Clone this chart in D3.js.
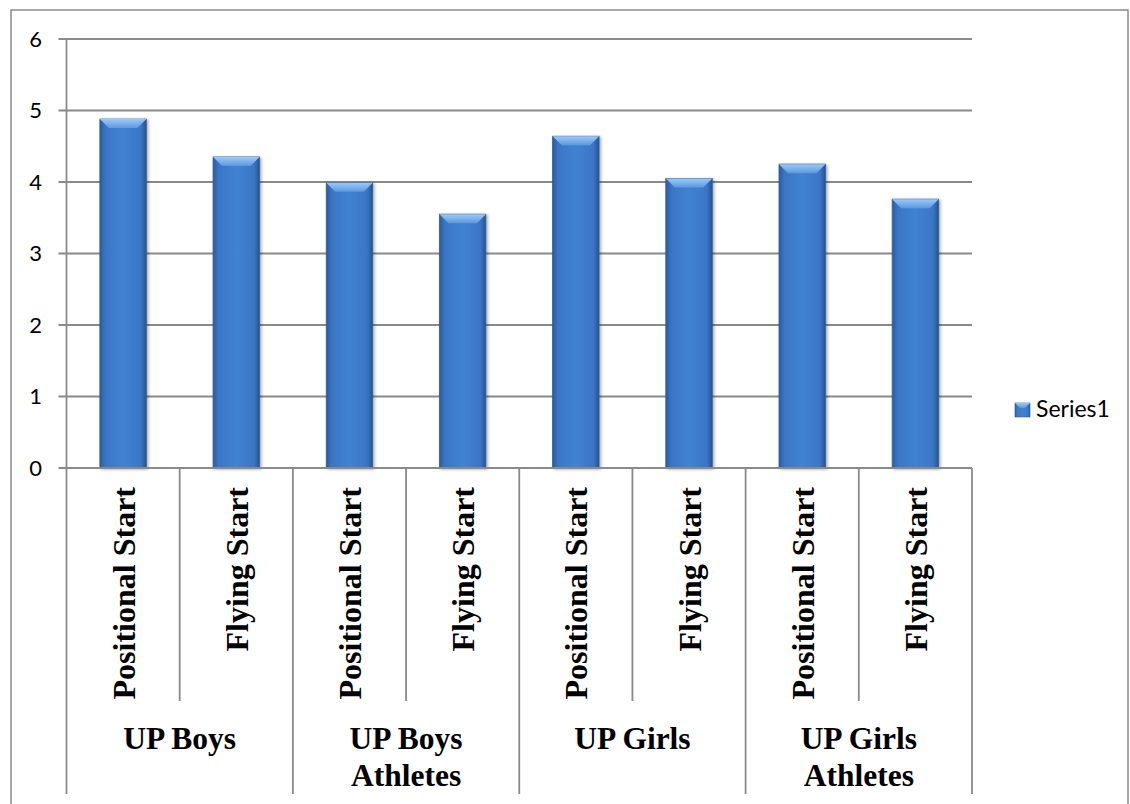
<!DOCTYPE html>
<html>
<head>
<meta charset="utf-8">
<script src="https://cdn.jsdelivr.net/npm/d3@7"></script>
<style>
  body { margin: 0; background: #fff; }
  svg { display: block; }
</style>
</head>
<body>
<div id="chart"></div>
<script>
// data
var groups = ["UP Boys", "UP Boys Athletes", "UP Girls", "UP Girls Athletes"];
var groupLines = [["UP Boys"], ["UP Boys", "Athletes"], ["UP Girls"], ["UP Girls", "Athletes"]];
var starts = ["Positional Start", "Flying Start"];
var values = [4.88, 4.35, 3.99, 3.55, 4.64, 4.05, 4.25, 3.76];
var yTicks = [0, 1, 2, 3, 4, 5, 6];
var seriesName = "Series1";

var W = 1130, H = 804;
var plot = {left: 66.5, right: 972, top: 39, bottom: 468};

var svg = d3.select("#chart").append("svg")
    .attr("width", W)
    .attr("height", H);

var grey = "#8a8a8a";

// outer frame
svg.append("rect")
    .attr("x", 11).attr("y", 10)
    .attr("width", 1117).attr("height", 820)
    .attr("fill", "none")
    .attr("stroke", grey)
    .attr("stroke-width", 1.5);

// one band per bar
var cats = [];
groups.forEach(function(g, gi) {
  starts.forEach(function(s, si) {
    cats.push({group: g, gi: gi, start: s, value: values[gi * starts.length + si]});
  });
});

var x = d3.scaleBand()
    .domain(d3.range(cats.length))
    .range([plot.left, plot.right])
    .padding(0);

var xg = d3.scaleBand()
    .domain(groups)
    .range([plot.left, plot.right])
    .padding(0);

var y = d3.scaleLinear()
    .domain([0, 6])
    .range([plot.bottom, plot.top]);

// gridlines + ticks
svg.append("g").selectAll("line")
  .data(yTicks)
  .enter().append("line")
    .attr("x1", plot.left - 8)
    .attr("x2", plot.right)
    .attr("y1", function(d) { return y(d); })
    .attr("y2", function(d) { return y(d); })
    .attr("stroke", grey)
    .attr("stroke-width", 1.8);

svg.append("g").selectAll("text")
  .data(yTicks)
  .enter().append("text")
    .attr("x", 42)
    .attr("y", function(d) { return y(d); })
    .attr("dy", "0.36em")
    .attr("text-anchor", "end")
    .style("font-family", "Lato, 'Open Sans', sans-serif")
    .style("font-size", "22px")
    .attr("fill", "#000")
    .text(function(d) { return d; });

// y axis line
svg.append("line")
    .attr("x1", plot.left).attr("x2", plot.left)
    .attr("y1", plot.top).attr("y2", 794)
    .attr("stroke", grey).attr("stroke-width", 1.8);

// bar gradients
var defs = svg.append("defs");
var body = defs.append("linearGradient").attr("id", "barBody")
    .attr("x1", "0").attr("x2", "1").attr("y1", "0").attr("y2", "0");
[[0, "#2a5c9e"], [0.12, "#3a76c6"], [0.5, "#4282d3"], [0.88, "#3a76c6"], [1, "#285490"]]
  .forEach(function(s) { body.append("stop").attr("offset", s[0]).attr("stop-color", s[1]); });

var topG = defs.append("linearGradient").attr("id", "barTop")
    .attr("x1", "0").attr("x2", "0").attr("y1", "0").attr("y2", "1");
[[0, "#9ccaf7"], [1, "#5c98e0"]]
  .forEach(function(s) { topG.append("stop").attr("offset", s[0]).attr("stop-color", s[1]); });

var shadow = defs.append("filter").attr("id", "shadow")
    .attr("x", "-20%").attr("y", "-5%").attr("width", "140%").attr("height", "110%");
shadow.append("feDropShadow")
    .attr("dx", 1.5).attr("dy", 1)
    .attr("stdDeviation", 1.5)
    .attr("flood-color", "#000")
    .attr("flood-opacity", 0.35);

var barW = x.bandwidth() * 0.41;
var bev = 9;

var bars = svg.append("g").selectAll("g")
  .data(cats)
  .enter().append("g")
    .attr("filter", "url(#shadow)");

bars.append("rect")
    .attr("x", function(d, i) { return x(i) + (x.bandwidth() - barW) / 2; })
    .attr("y", function(d) { return y(d.value); })
    .attr("width", barW)
    .attr("height", function(d) { return y(0) - y(d.value); })
    .attr("fill", "url(#barBody)")
    .attr("stroke", "#2d5c96")
    .attr("stroke-width", 0.8);

bars.append("path")
    .attr("d", function(d, i) {
      var x0 = x(i) + (x.bandwidth() - barW) / 2, x1 = x0 + barW, t = y(d.value);
      return "M" + x0 + "," + t + "L" + x1 + "," + t +
             "L" + (x1 - bev) + "," + (t + bev) + "L" + (x0 + bev) + "," + (t + bev) + "Z";
    })
    .attr("fill", "url(#barTop)");

// category axis boxes
svg.append("line")
    .attr("x1", plot.left).attr("x2", plot.right)
    .attr("y1", y(0)).attr("y2", y(0))
    .attr("stroke", grey).attr("stroke-width", 1.8);

var inner = d3.range(1, cats.length).filter(function(i) { return i % starts.length !== 0; });
svg.append("g").selectAll("line")
  .data(inner)
  .enter().append("line")
    .attr("x1", function(i) { return x(i); })
    .attr("x2", function(i) { return x(i); })
    .attr("y1", y(0)).attr("y2", 701)
    .attr("stroke", grey).attr("stroke-width", 1.8);

svg.append("g").selectAll("line")
  .data(groups)
  .enter().append("line")
    .attr("x1", function(g) { return xg(g) + xg.bandwidth(); })
    .attr("x2", function(g) { return xg(g) + xg.bandwidth(); })
    .attr("y1", y(0)).attr("y2", 794)
    .attr("stroke", grey).attr("stroke-width", 1.8);

// rotated start labels
svg.append("g").selectAll("text")
  .data(cats)
  .enter().append("text")
    .attr("transform", function(d, i) {
      return "translate(" + (x(i) + x.bandwidth() / 2 + 11.5) + "," + (y(0) + 19) + ") rotate(-90)";
    })
    .attr("text-anchor", "end")
    .style("font-family", "'Liberation Serif', 'Times New Roman', serif")
    .style("font-weight", "bold")
    .style("font-size", "32px")
    .attr("fill", "#000")
    .text(function(d) { return d.start; });

// group labels
var gl = svg.append("g").selectAll("text")
  .data(groups)
  .enter().append("text")
    .attr("x", function(g) { return xg(g) + xg.bandwidth() / 2; })
    .attr("y", 749)
    .attr("text-anchor", "middle")
    .style("font-family", "'Liberation Serif', 'Times New Roman', serif")
    .style("font-weight", "bold")
    .style("font-size", "31.5px")
    .attr("fill", "#000");

gl.selectAll("tspan")
  .data(function(g, gi) { return groupLines[gi].map(function(t) { return {t: t, x: xg(g) + xg.bandwidth() / 2}; }); })
  .enter().append("tspan")
    .attr("x", function(d) { return d.x; })
    .attr("dy", function(d, i) { return i === 0 ? 0 : 37; })
    .text(function(d) { return d.t; });

// legend
var leg = svg.append("g").attr("transform", "translate(1015,403)");
leg.append("rect")
    .attr("width", 15).attr("height", 14)
    .attr("fill", "url(#barBody)")
    .attr("stroke", "#2d5c96").attr("stroke-width", 0.6);
leg.append("path")
    .attr("d", "M0,0L15,0L10,5L5,5Z")
    .attr("fill", "url(#barTop)");
leg.append("text")
    .attr("x", 21).attr("y", 14)
    .style("font-family", "Lato, 'Open Sans', sans-serif")
    .style("font-size", "23px")
    .attr("fill", "#000")
    .text(seriesName);
</script>
</body>
</html>
